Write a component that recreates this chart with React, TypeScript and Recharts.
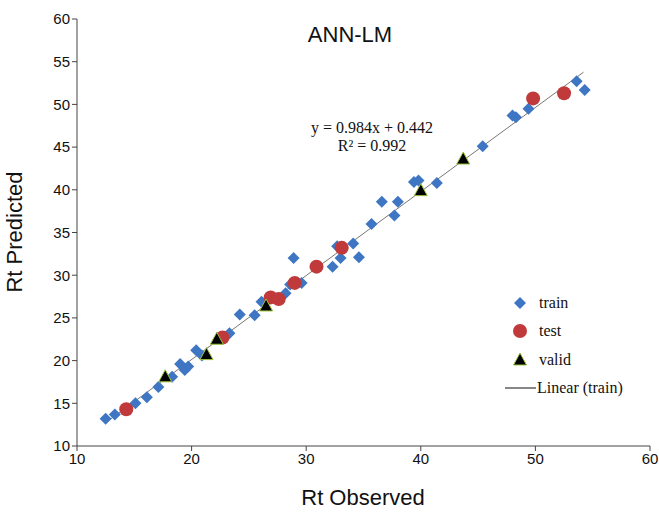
import React from 'react';
import { ScatterChart, Scatter, XAxis, YAxis, ReferenceLine, Customized } from 'recharts';

const train = [
  { x: 12.5, y: 13.2 }, { x: 13.3, y: 13.7 }, { x: 15.1, y: 15.0 }, { x: 16.1, y: 15.7 },
  { x: 17.1, y: 16.9 }, { x: 18.3, y: 18.1 }, { x: 19.0, y: 19.6 }, { x: 19.4, y: 18.9 },
  { x: 19.7, y: 19.3 }, { x: 20.4, y: 21.2 }, { x: 20.9, y: 20.6 }, { x: 23.3, y: 23.2 },
  { x: 24.2, y: 25.4 }, { x: 25.5, y: 25.3 }, { x: 26.1, y: 26.9 }, { x: 28.2, y: 27.9 },
  { x: 28.6, y: 28.9 }, { x: 28.9, y: 32.0 }, { x: 29.6, y: 29.1 }, { x: 32.3, y: 31.0 },
  { x: 32.7, y: 33.4 }, { x: 33.0, y: 32.0 }, { x: 34.1, y: 33.7 }, { x: 34.6, y: 32.1 },
  { x: 35.7, y: 36.0 }, { x: 36.6, y: 38.6 }, { x: 37.7, y: 37.0 }, { x: 38.0, y: 38.6 },
  { x: 39.4, y: 40.9 }, { x: 39.8, y: 41.1 }, { x: 41.4, y: 40.8 }, { x: 45.4, y: 45.1 },
  { x: 48.0, y: 48.7 }, { x: 48.3, y: 48.5 }, { x: 49.4, y: 49.5 }, { x: 53.6, y: 52.7 },
  { x: 54.3, y: 51.7 },
];

const test = [
  { x: 14.3, y: 14.3 }, { x: 22.7, y: 22.7 }, { x: 26.9, y: 27.4 }, { x: 27.6, y: 27.2 },
  { x: 29.0, y: 29.1 }, { x: 30.9, y: 31.0 }, { x: 33.1, y: 33.2 }, { x: 49.8, y: 50.7 },
  { x: 52.5, y: 51.3 },
];

const valid = [
  { x: 17.7, y: 18.1 }, { x: 21.3, y: 20.7 }, { x: 22.2, y: 22.5 }, { x: 26.5, y: 26.4 },
  { x: 40.0, y: 39.9 }, { x: 43.7, y: 43.6 },
];

const xTicks = [10, 20, 30, 40, 50, 60];
const yTicks = [10, 15, 20, 25, 30, 35, 40, 45, 50, 55, 60];

// linear fit (train): y = 0.984x + 0.442
const slope = 0.984;
const intercept = 0.442;
const trendX = [12.5, 54.2];

const BLUE = '#3E76C3';
const RED = '#C0393B';
const SANS = 'Liberation Sans, Arial, sans-serif';
const SERIF = 'Liberation Serif, Times New Roman, serif';

const Diamond = (p: any) => {
  const { cx, cy } = p;
  const r = 6;
  return <polygon points={`${cx},${cy - r} ${cx + r},${cy} ${cx},${cy + r} ${cx - r},${cy}`} fill={BLUE} />;
};
const Dot = (p: any) => <circle cx={p.cx} cy={p.cy} r={7} fill={RED} />;
const Tri = (p: any) => {
  const { cx, cy } = p;
  return <polygon points={`${cx},${cy - 7} ${cx + 6.5},${cy + 5} ${cx - 6.5},${cy + 5}`} fill="#000" stroke="#9BC53D" strokeWidth={1} />;
};

const Overlay = () => (
  <g>
    <text x={350} y={42} textAnchor="middle" fontFamily={SANS} fontSize={22} fill="#111">ANN-LM</text>
    <text x={372} y={133} textAnchor="middle" fontFamily={SERIF} fontSize={16} fill="#111">y = 0.984x + 0.442</text>
    <text x={372} y={151} textAnchor="middle" fontFamily={SERIF} fontSize={16} fill="#111">R² = 0.992</text>
    <text x={22} y={232} textAnchor="middle" fontFamily={SANS} fontSize={22} fill="#111" transform="rotate(-90 22 232)">Rt Predicted</text>
    <text x={363} y={505} textAnchor="middle" fontFamily={SANS} fontSize={22} fill="#111">Rt Observed</text>
    {/* legend */}
    <g fontFamily={SERIF} fontSize={16} fill="#111">
      <Diamond cx={520} cy={303} />
      <text x={539} y={308}>train</text>
      <Dot cx={520} cy={331} />
      <text x={539} y={336}>test</text>
      <Tri cx={520} cy={360} />
      <text x={539} y={365}>valid</text>
      <line x1={505} x2={536} y1={388} y2={388} stroke="#111" strokeWidth={1} />
      <text x={537} y={393}>Linear (train)</text>
    </g>
  </g>
);

export default function App() {
  return (
    <div style={{ position: 'absolute', left: 0, top: 0, width: 659, height: 514, background: '#fff' }}>
      <ScatterChart width={659} height={514} margin={{ top: 19, right: 9, bottom: 38, left: 37 }}>
        <XAxis
          type="number" dataKey="x" domain={[10, 60]} ticks={xTicks} allowDataOverflow
          tick={{ fontSize: 15, fill: '#111', fontFamily: SANS }} tickSize={5}
          axisLine={{ stroke: '#444' }} tickLine={{ stroke: '#444' }} height={30}
        />
        <YAxis
          type="number" dataKey="y" domain={[10, 60]} ticks={yTicks} allowDataOverflow
          tick={{ fontSize: 15, fill: '#111', fontFamily: SANS }} tickSize={5}
          axisLine={{ stroke: '#444' }} tickLine={{ stroke: '#444' }} width={40}
        />
        <Scatter data={train} shape={Diamond} isAnimationActive={false} />
        <Scatter data={test} shape={Dot} isAnimationActive={false} />
        <Scatter data={valid} shape={Tri} isAnimationActive={false} />
        <ReferenceLine
          segment={trendX.map((x) => ({ x, y: slope * x + intercept }))}
          stroke="#777" strokeWidth={1}
        />
        <Customized component={Overlay} />
      </ScatterChart>
    </div>
  );
}
